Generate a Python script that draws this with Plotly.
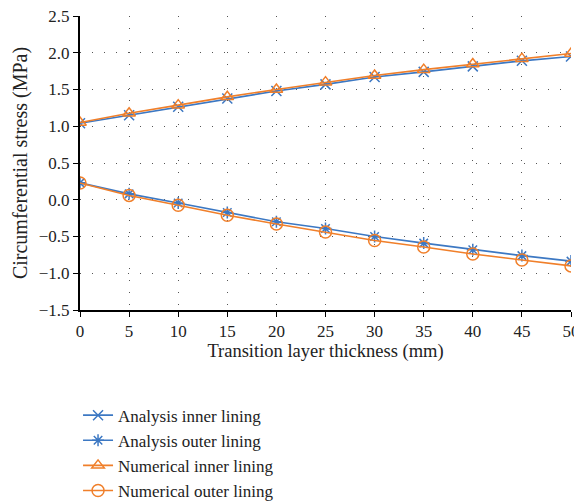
import plotly.graph_objects as go

thickness = [0, 5, 10, 15, 20, 25, 30, 35, 40, 45, 50]
analysis_inner = [1.04, 1.15, 1.265, 1.377, 1.48, 1.57, 1.67, 1.74, 1.815, 1.89, 1.95]
analysis_outer = [0.23, 0.08, -0.044, -0.174, -0.30, -0.39, -0.50, -0.59, -0.68, -0.76, -0.835]
numerical_inner = [1.05, 1.176, 1.287, 1.40, 1.50, 1.60, 1.69, 1.77, 1.846, 1.92, 1.99]
numerical_outer = [0.228, 0.059, -0.075, -0.21, -0.33, -0.44, -0.554, -0.643, -0.737, -0.82, -0.90]

BLUE = "#3C78C3"
ORANGE = "#F07F2A"
FONT = "Liberation Serif"

series = [
    ("Analysis inner lining", analysis_inner, BLUE, "x-thin-open", 10),
    ("Analysis outer lining", analysis_outer, BLUE, "asterisk-open", 10),
    ("Numerical inner lining", numerical_inner, ORANGE, "triangle-up-open", 11),
    ("Numerical outer lining", numerical_outer, ORANGE, "circle-open", 12),
]

fig = go.Figure()
for name, vals, color, sym, size in series:
    fig.add_trace(go.Scatter(
        x=thickness, y=vals, name=name, mode="lines+markers",
        line=dict(color=color, width=1.6),
        marker=dict(symbol=sym, size=size, color=color, line=dict(color=color, width=1.5)),
    ))

grid = dict(showgrid=True, gridcolor="#555555", gridwidth=1, griddash="1px,11px")

# page body has an 8px margin, so the figure is sized/offset to land on the same pixels
fig.update_layout(
    width=574, height=494,
    margin=dict(l=72, r=11, t=8, b=192, autoexpand=False),
    paper_bgcolor="white", plot_bgcolor="white",
    font=dict(family=FONT, size=17, color="#222222"),
    showlegend=True,
    legend=dict(x=-0.004, xanchor="left", y=-0.298, yanchor="top",
                font=dict(family=FONT, size=17, color="#222222"),
                bgcolor="rgba(0,0,0,0)", tracegroupgap=0, itemwidth=30),
    xaxis=dict(range=[0, 50], tickvals=thickness, showline=True, linecolor="black", linewidth=2,
               ticks="outside", ticklen=5, tickcolor="black", zeroline=False, automargin=False,
               ticklabeloverflow="allow",
               title=dict(text="Transition layer thickness (mm)", font=dict(size=18.5), standoff=4),
               **grid),
    yaxis=dict(range=[-1.5, 2.5], dtick=0.5, tickformat=".1f", showline=True, linecolor="black", linewidth=2,
               ticks="outside", ticklen=5, tickcolor="black", zeroline=False, automargin=False,
               ticklabeloverflow="allow",
               title=dict(text="Circumferential stress (MPa)", font=dict(size=20), standoff=6),
               **grid),
)

fig.write_html("out.html")
